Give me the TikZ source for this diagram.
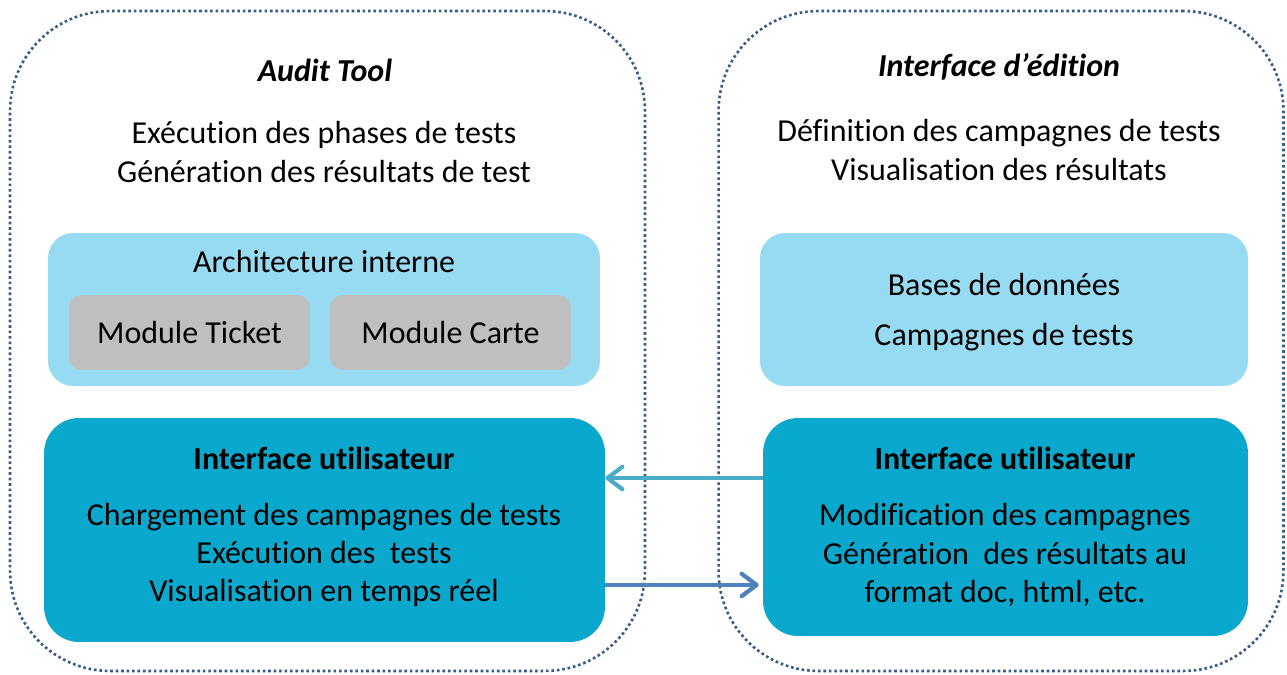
\documentclass[tikz,border=0pt]{standalone}
\usepackage{fontspec}
\setmainfont{Carlito}[Ligatures = NoCommon]
\usepackage{tikz}
\usetikzlibrary{arrows.meta}
\usetikzlibrary{positioning}
\definecolor{mframe}{rgb}{0.22, 0.36, 0.54}
\definecolor{mlight}{rgb}{0.59, 0.86, 0.95}
\definecolor{mgrey}{rgb}{0.75, 0.75, 0.75}
\definecolor{mteal}{rgb}{0.04, 0.66, 0.80}
\definecolor{marrowa}{rgb}{0.29, 0.67, 0.78}
\definecolor{marrowb}{rgb}{0.31, 0.51, 0.74}
\tikzset{frame/.style = {draw = mframe, line width = 1.5pt, dash pattern = on 1.5pt off 1.6pt, rounded corners = 2cm, inner sep = 0}}
\tikzset{archbox/.style = {fill = mlight, rounded corners = 0.5cm, inner sep = 0}}
\tikzset{modbox/.style = {fill = mgrey, rounded corners = 0.25cm, inner sep = 0, minimum width = 4.82cm, minimum height = 1.5cm, font = \fontsize{18.2}{21.8}\selectfont}}
\tikzset{uibox/.style = {fill = mteal, rounded corners = 0.7cm, inner sep = 0}}
\tikzset{txt/.style = {align = center, inner sep = 0, font = \fontsize{18.2}{21.8}\selectfont}}
\tikzset{link/.style = {line width = 2.4pt, -{Straight Barb[length = 0.3cm, width = 0.45cm, line cap = round, line join = round]}}}

\begin{document}
\begin{tikzpicture}[x = 0.02cm, y = -0.02cm]
      \useasboundingbox (0, 0) rectangle (1287, 675);

      % outer frames
      \node [frame, minimum width = 12.7cm, minimum height = 13.2cm] (auditf) at (327.5, 341) {};
      \node [frame, minimum width = 11.3cm, minimum height = 13.2cm] (editf) at (1001, 341) {};

      % Audit Tool
      \node [txt, font = \fontsize{18.2}{21.8}\selectfont\bfseries\itshape] (audit) at (325, 70) {Audit Tool};
      \node [txt] (auditdesc) at (324, 152) {Exécution des phases de tests\\Génération des résultats de test};

      \node [archbox, minimum width = 11.04cm, minimum height = 3.06cm] (archi) at (324, 309.5) {};
      \node [txt] (architxt) at (324, 262) {Architecture interne};
      \node [modbox] (ticket) at (189.5, 332.5) {Module Ticket};
      \node [modbox] (carte) at (450.5, 332.5) {Module Carte};

      \node [uibox, minimum width = 11.22cm, minimum height = 4.48cm] (uileft) at (324.5, 530) {};
      \node [txt, font = \fontsize{18.2}{21.8}\selectfont\bfseries] (uilefttitle) at (324, 458) {Interface utilisateur};
      \node [txt] (uilefttxt) at (324, 555) {Chargement des campagnes de tests\\Exécution des\ \ tests\\Visualisation en temps réel};

      % Interface d'edition
      \node [txt, font = \fontsize{18.2}{21.8}\selectfont\bfseries\itshape] (edit) at (999, 67) {Interface d’édition};
      \node [txt] (editdesc) at (999, 150) {Définition des campagnes de tests\\Visualisation des résultats};

      \node [archbox, minimum width = 9.76cm, minimum height = 3.06cm] (bases) at (1004, 309.5) {};
      \node [txt] (basestxt) at (1004, 285) {Bases de données};
      \node [txt] (campstxt) at (1004, 337) {Campagnes de tests};

      \node [uibox, minimum width = 9.7cm, minimum height = 4.36cm] (uiright) at (1005.5, 527) {};
      \node [txt, font = \fontsize{18.2}{21.8}\selectfont\bfseries] (uirighttitle) at (1005, 458) {Interface utilisateur};
      \node [txt] (uirighttxt) at (1005, 555) {Modification des campagnes\\Génération\ \ des résultats au\\format doc, html, etc.};

      % links
      \draw [link, marrowa] ([yshift = 0.98cm] uiright.west) -- ([yshift = 0.98cm] uiright.west -| uileft.east);
      \draw [link, marrowb] ([yshift = -1.1cm] uileft.east) -- ([yshift = -1.1cm, xshift = -0.08cm] uileft.east -| uiright.west);
    \end{tikzpicture}
\end{document}
